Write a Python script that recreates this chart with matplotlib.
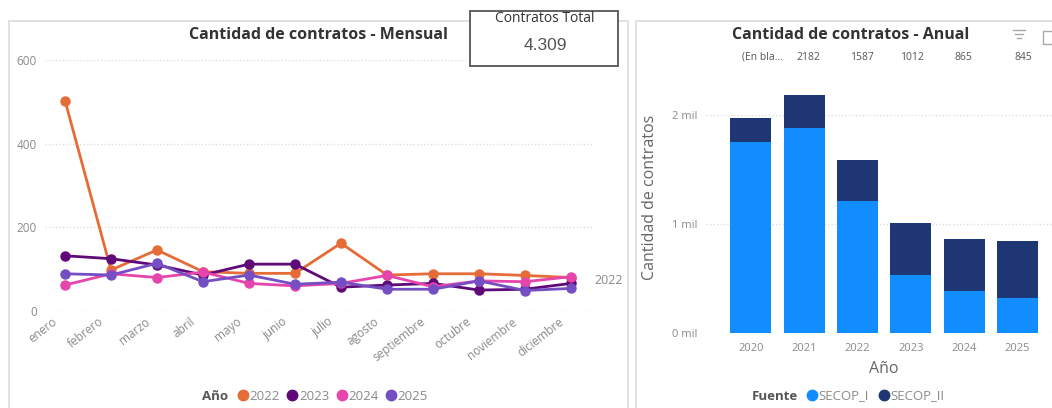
# Cantidad de contratos - mensual y anual
import matplotlib
matplotlib.use("Agg")
import matplotlib.pyplot as plt
from matplotlib.lines import Line2D
from matplotlib.patches import Rectangle
from matplotlib.transforms import ScaledTranslation

W, H = 1052, 408

meses = ["enero", "febrero", "marzo", "abril", "mayo", "junio", "julio", "agosto",
         "septiembre", "octubre", "noviembre", "diciembre"]
m2022 = [503, 98, 146, 94, 90, 90, 162, 86, 89, 89, 85, 80]
m2023 = [132, 125, 110, 86, 112, 112, 57, 62, 66, 50, 52, 66]
m2024 = [62, 89, 80, 93, 66, 60, 66, 85, 58, 72, 70, 82]
m2025 = [89, 86, 114, 70, 86, 64, 69, 52, 52, 72, 49, 54]
colores_mes = ["#E66C37", "#5F0A78", "#E645AB", "#744EC2"]
nombres_mes = ["2022", "2023", "2024", "2025"]

anios = ["2020", "2021", "2022", "2023", "2024", "2025"]
secop_1 = [1755, 1878, 1208, 529, 385, 324]
secop_2 = [215, 304, 379, 483, 480, 521]
arriba = ["(En bla...", "2182", "1587", "1012", "865", "845"]
arriba_x = [762, 808, 862, 912, 963, 1023]

plt.rcParams["font.family"] = ["Open Sans", "DejaVu Sans"]
GRIS = "#8a8a8a"
OSCURO = "#333333"


def fx(x):
    return x / W


def fy(y):
    return 1 - y / H


def caja(x0, y_top, x1, y_bot):
    # ejes en pixeles de la imagen
    return [fx(x0), fy(y_bot), (x1 - x0) / W, (y_bot - y_top) / H]


fig = plt.figure(figsize=(W / 100, H / 100), dpi=100, facecolor="white")

# tarjetas de fondo
for x0, x1 in [(9, 628), (636, 1060)]:
    fig.add_artist(Rectangle((fx(x0), fy(420)), (x1 - x0) / W, 399 / H, transform=fig.transFigure,
                             facecolor="white", edgecolor="#dedede", linewidth=1.3, zorder=-1))

# --- mensual ---
ax1 = fig.add_axes(caja(45, 60, 592, 311))
ax1.patch.set_alpha(0)
series = [m2022, m2023, m2024, m2025]
for vals, col, nom in zip(series, colores_mes, nombres_mes):
    ax1.plot(range(12), vals, color=col, linewidth=2, marker="o", markersize=6.5,
             label=nom, clip_on=False)
ax1.set_xlim(-0.435, 11.457)
ax1.set_ylim(0, 600)
ax1.set_yticks([0, 200, 400, 600])
ax1.set_xticks(range(12))
ax1.set_xticklabels(meses, rotation=38, ha="right", rotation_mode="anchor")
ax1.tick_params(axis="both", length=0, labelsize=8.5, labelcolor=GRIS)
ax1.tick_params(axis="y", pad=6)
ax1.tick_params(axis="x", pad=3)
# las etiquetas de mes van corridas a la izquierda
desplaza = ScaledTranslation(-13 / 100, 0, fig.dpi_scale_trans)
for lab in ax1.get_xticklabels():
    lab.set_transform(lab.get_transform() + desplaza)
ax1.grid(axis="y", color="#dddddd", linestyle=(0, (1, 1.5)), linewidth=1)
ax1.grid(axis="x", visible=False)
ax1.set_axisbelow(True)
for s in ax1.spines.values():
    s.set_visible(False)

fig.text(fx(318), fy(35), "Cantidad de contratos - Mensual", fontsize=11.5, fontweight="bold",
         color=OSCURO, ha="center", va="center")
fig.text(fx(609), fy(280), "2022", fontsize=9, color=GRIS, ha="center", va="center")

fig.legend(handles=[Line2D([], [], color=c, marker="o", linestyle="", markersize=7.5, label=n)
                    for c, n in zip(colores_mes, nombres_mes)],
           loc="center left", bbox_to_anchor=(fx(231), fy(396)), ncol=4, frameon=False,
           fontsize=9.5, handlelength=0.8, handletextpad=0.1, columnspacing=0.55, borderpad=0,
           labelcolor=GRIS)
fig.text(fx(215), fy(396), "Año", fontsize=9.5, fontweight="bold", color="#555555",
         ha="center", va="center")

# tarjeta del total
fig.add_artist(Rectangle((fx(470), fy(66)), 148 / W, 55 / H, transform=fig.transFigure,
                         facecolor="white", edgecolor="#555555", linewidth=1.3, zorder=2))
fig.text(fx(545), fy(19), "Contratos Total", fontsize=10, color=OSCURO, ha="center", va="center")
fig.text(fx(545), fy(46), "4.309", fontsize=12.5, color="#555555", ha="center", va="center",
         family=["Liberation Sans", "DejaVu Sans"])

# --- anual ---
ax2 = fig.add_axes(caja(706, 115, 1052, 333))
ax2.patch.set_alpha(0)
pos = list(range(6))
ax2.bar(pos, secop_1, width=0.77, color="#118DFF", label="SECOP_I", zorder=3)
ax2.bar(pos, secop_2, width=0.77, bottom=secop_1, color="#1F3674", label="SECOP_II", zorder=3,
        clip_on=False)
ax2.set_xlim(-0.84, 5.65)
ax2.set_ylim(0, 2000)
ax2.set_yticks([0, 1000, 2000])
ax2.set_yticklabels(["0 mil", "1 mil", "2 mil"])
ax2.set_xticks(pos)
ax2.set_xticklabels(anios)
ax2.tick_params(axis="both", length=0, labelsize=8, labelcolor=GRIS)
ax2.tick_params(axis="y", pad=6)
ax2.tick_params(axis="x", pad=7)
ax2.grid(axis="y", color="#dddddd", linestyle=(0, (1, 1.5)), linewidth=1, zorder=0)
ax2.grid(axis="x", visible=False)
for s in ax2.spines.values():
    s.set_visible(False)

fig.text(fx(851), fy(35), "Cantidad de contratos - Anual", fontsize=11.5, fontweight="bold",
         color=OSCURO, ha="center", va="center")
for x, t in zip(arriba_x, arriba):
    fig.text(fx(x), fy(57), t, fontsize=7.5, color="#555555", ha="center", va="center")
fig.text(fx(650), fy(197), "Cantidad de contratos", fontsize=11.5, color="#666666", rotation=90,
         ha="center", va="center")
fig.text(fx(884), fy(369), "Año", fontsize=11.5, color="#666666", ha="center", va="center")

fig.legend(handles=[Line2D([], [], color=c, marker="o", linestyle="", markersize=7.5, label=n)
                    for c, n in zip(["#118DFF", "#1F3674"], ["SECOP_I", "SECOP_II"])],
           loc="center left", bbox_to_anchor=(fx(800), fy(396)), ncol=2, frameon=False,
           fontsize=9.5, handlelength=0.8, handletextpad=0.1, columnspacing=0.75, borderpad=0,
           labelcolor=GRIS)
fig.text(fx(775), fy(396), "Fuente", fontsize=9.5, fontweight="bold", color="#555555",
         ha="center", va="center")

# iconos de la tarjeta (filtro y foco)
for y, x0, x1 in [(30, 1013, 1025), (34, 1015, 1023), (38, 1017, 1021)]:
    fig.add_artist(Line2D([fx(x0), fx(x1)], [fy(y), fy(y)], color="#aaaaaa", linewidth=1))
fig.add_artist(Rectangle((fx(1043), fy(44)), 12 / W, 13 / H, transform=fig.transFigure,
                         facecolor="none", edgecolor="#aaaaaa", linewidth=1))

fig.savefig("out.png", dpi=100)
